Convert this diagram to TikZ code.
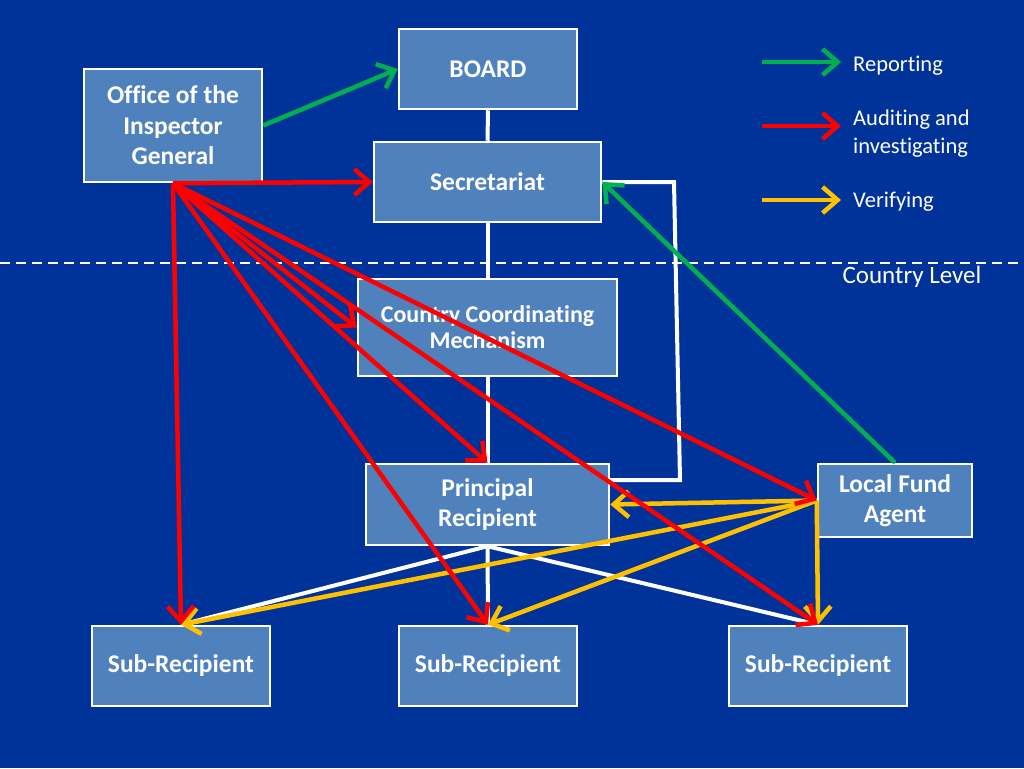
\documentclass[tikz,border=0pt]{standalone}
\usepackage{fontspec}
\setmainfont{Carlito}[Ligatures={NoCommon}]
\usetikzlibrary{arrows.meta}
\definecolor{bgblue}{HTML}{003399}
\definecolor{boxblue}{HTML}{4F81BD}
\definecolor{repgreen}{HTML}{00B050}
\definecolor{audred}{HTML}{FF0000}
\definecolor{veryellow}{HTML}{FFC000}
\tikzset{
  box/.style={draw=white, line width=2.5pt, fill=boxblue, text=white, inner sep=0pt,
    align=center, font=\bfseries\fontsize{25.5}{30.5}\selectfont},
  link/.style={draw=white, line width=4pt},
  arr/.style={line width=4.5pt, -{Straight Barb[length=15pt,width=26pt]}},
  reparr/.style={arr, draw=repgreen},
  audarr/.style={arr, draw=audred},
  verarr/.style={arr, draw=veryellow},
  legtext/.style={text=white, anchor=west, inner sep=0pt, align=left,
    font=\fontsize{22.5}{28}\selectfont}
}
\begin{document}
\begin{tikzpicture}[x=1pt,y=-1pt]
\fill[bgblue] (0,0) rectangle (1024,768);
\useasboundingbox (0,0) rectangle (1024,768);
% country level divider
\coordinate (dl) at (0,263);
\coordinate (dr) at (1024,263);
\draw[white, line width=2pt, dash pattern=on 10pt off 6pt] (dl) -- (dr);
\node[text=white, inner sep=0pt, font=\fontsize{25}{30}\selectfont] (cl) at (912,277) {Country Level};
% boxes
\node[box, minimum width=178pt, minimum height=80pt] (board) at (488,69) {BOARD};
\node[box, minimum width=178pt, minimum height=113pt] (oig) at (173,125.5) {Office of the\\Inspector\\General};
\node[box, minimum width=227pt, minimum height=80pt] (sec) at (487.5,182) {Secretariat};
\node[box, minimum width=259pt, minimum height=97pt, font=\bfseries\fontsize{24}{26}\selectfont] (ccm) at (487.5,327.5) {Country Coordinating\\Mechanism};
\node[box, minimum width=243pt, minimum height=81pt] (pr) at (487.5,504.5) {Principal\\Recipient};
\node[box, minimum width=154pt, minimum height=73pt] (lfa) at (895,500.5) {Local Fund\\Agent};
\node[box, minimum width=178pt, minimum height=80pt] (sr1) at (181,666) {Sub-Recipient};
\node[box, minimum width=178pt, minimum height=80pt] (sr2) at (488,666) {Sub-Recipient};
\node[box, minimum width=178pt, minimum height=80pt] (sr3) at (818,666) {Sub-Recipient};
% white structure links
\draw[link] (board.south) -- (sec.north);
\draw[link] (sec.south) -- (ccm.north);
\draw[link] (ccm.south) -- (pr.north);
\draw[link] (pr.south) -- (sr2.north);
\draw[link] (pr.south) -- (sr1.north);
\draw[link] (pr.south) -- (sr3.north);
\coordinate (w1) at (674,182);
\coordinate (w2) at (680,480);
\coordinate (w3) at (609,480);
\draw[link, line join=miter] (sec.east) -- (w1) -- (w2) -- (w3);
% verifying
\draw[verarr] (lfa.west) -- (pr.east);
\draw[verarr] (lfa.west) -- (sr1.north);
\draw[verarr] (lfa.west) -- (sr2.north);
\draw[verarr] (lfa.west) -- (sr3.north);
% auditing and investigating
\draw[audarr] (oig.south) -- (sec.west);
\draw[audarr] (oig.south) -- (sr1.north);
\draw[audarr] (oig.south) -- (ccm.west);
\draw[audarr] (oig.south) -- (pr.north);
\draw[audarr] (oig.south) -- (sr2.north);
\draw[audarr] (oig.south) -- (sr3.north);
\draw[audarr] (oig.south) -- (lfa.west);
% reporting
\draw[reparr] (oig.east) -- (board.west);
\draw[reparr] (lfa.north) -- (sec.east);
% legend
\coordinate (g1) at (762,62);  \coordinate (g2) at (841,62);
\coordinate (r1) at (762,126); \coordinate (r2) at (841,126);
\coordinate (y1) at (762,200); \coordinate (y2) at (841,200);
\draw[reparr] (g1) -- (g2);
\draw[audarr] (r1) -- (r2);
\draw[verarr] (y1) -- (y2);
\node[legtext] (lrep) at (853,66) {Reporting};
\node[legtext] (laud) at (853,134) {Auditing and\\investigating};
\node[legtext] (lver) at (853,202) {Verifying};
\end{tikzpicture}
\end{document}
